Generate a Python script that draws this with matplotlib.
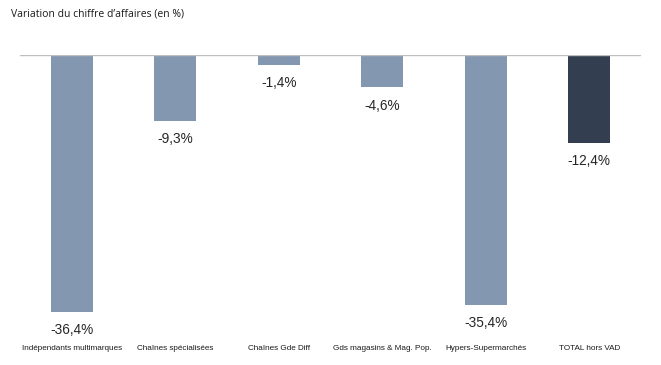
import matplotlib
matplotlib.use("Agg")
import matplotlib.pyplot as plt
import numpy as np

categories = ["Indépendants multimarques", "Chaînes spécialisées", "Chaînes Gde Diff",
              "Gds magasins & Mag. Pop.", "Hypers-Supermarchés", "TOTAL hors VAD"]
values = [-36.4, -9.3, -1.4, -4.6, -35.4, -12.4]
labels = ["-36,4%", "-9,3%", "-1,4%", "-4,6%", "-35,4%", "-12,4%"]
colors = ["#8497b0"] * 5 + ["#333f50"]

fig = plt.figure(figsize=(6.61, 3.65), dpi=100)
ax = fig.add_axes([20 / 661, 1 - 312 / 365, 621 / 661, 257 / 365])

x = np.arange(len(categories))
bars = ax.bar(x, values, width=0.405, color=colors, zorder=2)
ax.axhline(0, color="#bfbfbf", lw=1, zorder=3)

for b, lab in zip(bars, labels):
    ax.annotate(lab, (b.get_x() + b.get_width() / 2, b.get_height()),
                xytext=(0, -8), textcoords="offset points",
                ha="center", va="top", fontsize=9.8, color="#262626",
                family=["Liberation Sans", "DejaVu Sans"])

ax.set_xlim(-0.5, len(categories) - 0.5)
ax.set_ylim(-36.4, 0)
ax.set_xticks(x)
ax.set_xticklabels(categories, fontsize=5.9, color="#1a1a1a",
                   family=["Liberation Sans", "DejaVu Sans"])
ax.tick_params(axis="x", length=0, pad=23.5)
ax.set_yticks([])
for s in ax.spines.values():
    s.set_visible(False)

fig.text(11 / 661, 1 - 14 / 365, "Variation du chiffre d’affaires (en %)",
         fontsize=7.5, color="#1a1a1a", va="center", ha="left",
         family=["Open Sans", "DejaVu Sans"])

fig.savefig("out.png", dpi=100)
